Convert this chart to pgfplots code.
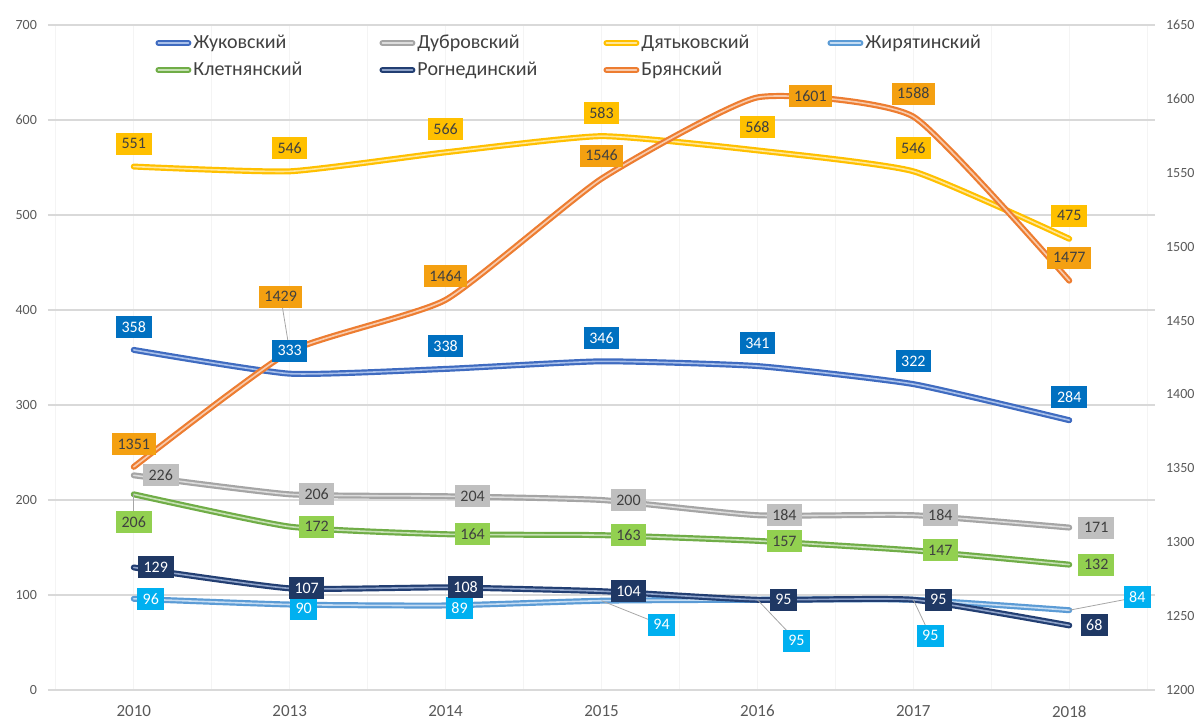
\documentclass[border=0pt]{standalone}
\usepackage{fontspec}
\setmainfont{Carlito}
\usepackage{pgfplots}
\usepackage{pgfplotstable}
\pgfplotsset{compat=1.18}

\definecolor{cZh}{HTML}{3F6BC0}\definecolor{cZhL}{HTML}{A9C0EA}\definecolor{bZh}{HTML}{0070C0}
\definecolor{cDu}{HTML}{A5A5A5}\definecolor{cDuL}{HTML}{DCDCDC}\definecolor{bDu}{HTML}{BFBFBF}
\definecolor{cDy}{HTML}{FFC000}\definecolor{cDyL}{HTML}{FFE699}\definecolor{bDy}{HTML}{FFC000}
\definecolor{cZr}{HTML}{5B9BD5}\definecolor{cZrL}{HTML}{C5DCF2}\definecolor{bZr}{HTML}{00B0F0}
\definecolor{cKl}{HTML}{70AD47}\definecolor{cKlL}{HTML}{C6E0B4}\definecolor{bKl}{HTML}{92D050}
\definecolor{cRo}{HTML}{223E72}\definecolor{cRoL}{HTML}{8EA2C8}\definecolor{bRo}{HTML}{1F3864}
\definecolor{cBr}{HTML}{ED7D31}\definecolor{cBrL}{HTML}{F8CBAD}\definecolor{bBr}{HTML}{F4A011}
\definecolor{tDark}{HTML}{404040}\definecolor{tTick}{HTML}{595959}
\definecolor{gridc}{HTML}{D9D9D9}\definecolor{vgrid}{HTML}{F4F4F4}\definecolor{leader}{HTML}{A6A6A6}

% columns: x = category index, y = value, dx/dy = label offset in pt
% Жуковский
\pgfplotstableread{
x y dx dy
0 358 0 11.5
1 333 0 11.5
2 338 0 11.5
3 346 0 11.5
4 341 0 11.5
5 322 0 11.5
6 284 0 11.5
}\tZh
% Дубровский
\pgfplotstableread{
x y dx dy
0 226 13.5 0
1 206 13.5 0
2 204 13.5 0
3 200 13.5 0
4 184 13.5 0
5 184 13.5 0
6 171 13.5 0
}\tDu
% Дятьковский
\pgfplotstableread{
x y dx dy
0 551 0 11.5
1 546 0 11.5
2 566 0 11.5
3 583 0 11.5
4 568 0 11.5
5 546 0 11.5
6 475 0 11.5
}\tDy
% Жирятинский
\pgfplotstableread{
x y dx dy
0 96 8.5 0
1 90 7 -2
2 89 7 -1.5
3 94 30 -12
4 95 19.5 -20.5
5 95 8.5 -18
6 84 34 6.5
}\tZr
% Клетнянский
\pgfplotstableread{
x y dx dy
0 206 0 -14
1 172 13.5 0
2 164 13.5 0
3 163 13.5 0
4 157 13.5 0
5 147 13.5 0
6 132 13.5 0
}\tKl
% Рогнединский
\pgfplotstableread{
x y dx dy
0 129 11 0
1 107 8.5 0
2 108 10 0
3 104 13.5 0
4 95 13 0
5 95 12.5 0
6 68 12.5 0
}\tRo
% Брянский (right axis)
\pgfplotstableread{
x y dx dy
0 1351 0 11.5
1 1429 -4.5 27.5
2 1464 0 12
3 1546 0 11.5
4 1601 26.5 0.5
5 1588 0 11.5
6 1477 0 11.5
}\tBr

\pgfplotsset{
  base/.style={width=553.5pt, height=332.5pt, scale only axis,
    xmin=-0.55, xmax=6.55, clip=false,
    /pgf/number format/assume math mode=true,
    /pgf/number format/1000 sep={}},
  ser/.style 2 args={draw=#1, double=#2, double distance=0.8pt, line width=1.1pt,
    smooth, tension=0.3, no markers, line cap=round, line join=round},
  lab/.style 2 args={draw=none, no markers, forget plot,
    point meta=explicit symbolic,
    nodes near coords={\pgfplotspointmeta},
    every node near coord/.append style={anchor=center,
      fill=#1, text=#2, font=\fontsize{8}{9}\selectfont,
      inner xsep=2.8pt, inner ysep=2.5pt, text height=5.6pt, text depth=0.4pt}},
}

\begin{document}
\begin{tikzpicture}
% ---- left axis: lines ----
\begin{axis}[base,
  ymin=0, ymax=700, ytick={0,100,...,700},
  xtick={0,1,2,3,4,5,6},
  xticklabels={2010,2013,2014,2015,2016,2017,2018},
  minor xtick={-0.5,0.5,1.5,2.5,3.5,4.5,5.5,6.5},
  ymajorgrids, xmajorgrids, xminorgrids,
  major x grid style={vgrid, line width=0.6pt},
  minor x grid style={vgrid, line width=0.6pt},
  major y grid style={gridc, line width=0.6pt},
  axis line style={draw=none},
  major tick length=0pt, minor tick length=0pt,
  yticklabel style={font=\fontsize{7}{8}\selectfont, text=tTick, xshift=-2pt},
  xticklabel style={font=\fontsize{8.5}{10}\selectfont, text=tTick, yshift=-4.2pt},
]
\addplot[ser={cZh}{cZhL}] table[x=x,y=y] {\tZh};
\addplot[ser={cDu}{cDuL}] table[x=x,y=y] {\tDu};
\addplot[ser={cDy}{cDyL}] table[x=x,y=y] {\tDy};
\addplot[ser={cZr}{cZrL}] table[x=x,y=y] {\tZr};
\addplot[ser={cKl}{cKlL}] table[x=x,y=y] {\tKl};
\addplot[ser={cRo}{cRoL}] table[x=x,y=y] {\tRo};
\end{axis}
% ---- right axis: Брянский ----
\begin{axis}[base,
  ymin=1200, ymax=1650, ytick={1200,1250,...,1650},
  axis y line*=right, axis x line=none,
  axis line style={draw=none},
  major tick length=0pt,
  yticklabel style={font=\fontsize{7}{8}\selectfont, text=tTick, xshift=2pt},
  legend columns=4,
  legend cell align=left,
  legend image code/.code={\draw[#1] (0pt,0pt) -- (15pt,0pt);},
  legend style={draw=none, fill=none, at={(0.0967,0.993)}, anchor=north west,
    inner sep=0pt, row sep=0.5pt, column sep=0pt,
    font=\fontsize{10}{12}\selectfont, text=tDark,
    nodes={inner xsep=1pt, inner ysep=2pt, text height=7pt, text depth=2pt}},
]
\addlegendimage{ser={cZh}{cZhL}}\addlegendentry{\makebox[92pt][l]{Жуковский}}
\addlegendimage{ser={cDu}{cDuL}}\addlegendentry{\makebox[92pt][l]{Дубровский}}
\addlegendimage{ser={cDy}{cDyL}}\addlegendentry{\makebox[92pt][l]{Дятьковский}}
\addlegendimage{ser={cZr}{cZrL}}\addlegendentry{\makebox[92pt][l]{Жирятинский}}
\addlegendimage{ser={cKl}{cKlL}}\addlegendentry{\makebox[92pt][l]{Клетнянский}}
\addlegendimage{ser={cRo}{cRoL}}\addlegendentry{\makebox[92pt][l]{Рогнединский}}
\addplot[ser={cBr}{cBrL}] table[x=x,y=y] {\tBr};
\addlegendentry{\makebox[92pt][l]{Брянский}}
\draw[leader, line width=0.4pt] (axis cs:1,1429) -- ++(-4.5pt,27.5pt);
\addplot[lab={bBr}{tDark}] table[x expr=\thisrow{x}+\thisrow{dx}/77.958,
  y expr=\thisrow{y}+\thisrow{dy}/0.73889, meta=y] {\tBr};
\end{axis}
% ---- left-scale data labels on top ----
\begin{axis}[base, hide axis, ymin=0, ymax=700]
\draw[leader, line width=0.4pt] (axis cs:0,206) -- ++(0pt,-14pt);
\draw[leader, line width=0.4pt] (axis cs:3,94) -- ++(30pt,-12pt);
\draw[leader, line width=0.4pt] (axis cs:4,95) -- ++(19.5pt,-20.5pt);
\draw[leader, line width=0.4pt] (axis cs:5,95) -- ++(8.5pt,-18pt);
\draw[leader, line width=0.4pt] (axis cs:6,84) -- ++(34pt,6.5pt);
\addplot[lab={bZh}{white}] table[x expr=\thisrow{x}+\thisrow{dx}/77.958, y expr=\thisrow{y}+\thisrow{dy}/0.475, meta=y] {\tZh};
\addplot[lab={bDu}{tDark}] table[x expr=\thisrow{x}+\thisrow{dx}/77.958, y expr=\thisrow{y}+\thisrow{dy}/0.475, meta=y] {\tDu};
\addplot[lab={bDy}{tDark}] table[x expr=\thisrow{x}+\thisrow{dx}/77.958, y expr=\thisrow{y}+\thisrow{dy}/0.475, meta=y] {\tDy};
\addplot[lab={bZr}{white}] table[x expr=\thisrow{x}+\thisrow{dx}/77.958, y expr=\thisrow{y}+\thisrow{dy}/0.475, meta=y] {\tZr};
\addplot[lab={bKl}{tDark}] table[x expr=\thisrow{x}+\thisrow{dx}/77.958, y expr=\thisrow{y}+\thisrow{dy}/0.475, meta=y] {\tKl};
\addplot[lab={bRo}{white}] table[x expr=\thisrow{x}+\thisrow{dx}/77.958, y expr=\thisrow{y}+\thisrow{dy}/0.475, meta=y] {\tRo};
\end{axis}
\pgfresetboundingbox
\path (-24pt,-15pt) rectangle (577.5pt,345pt);
\end{tikzpicture}
\end{document}
